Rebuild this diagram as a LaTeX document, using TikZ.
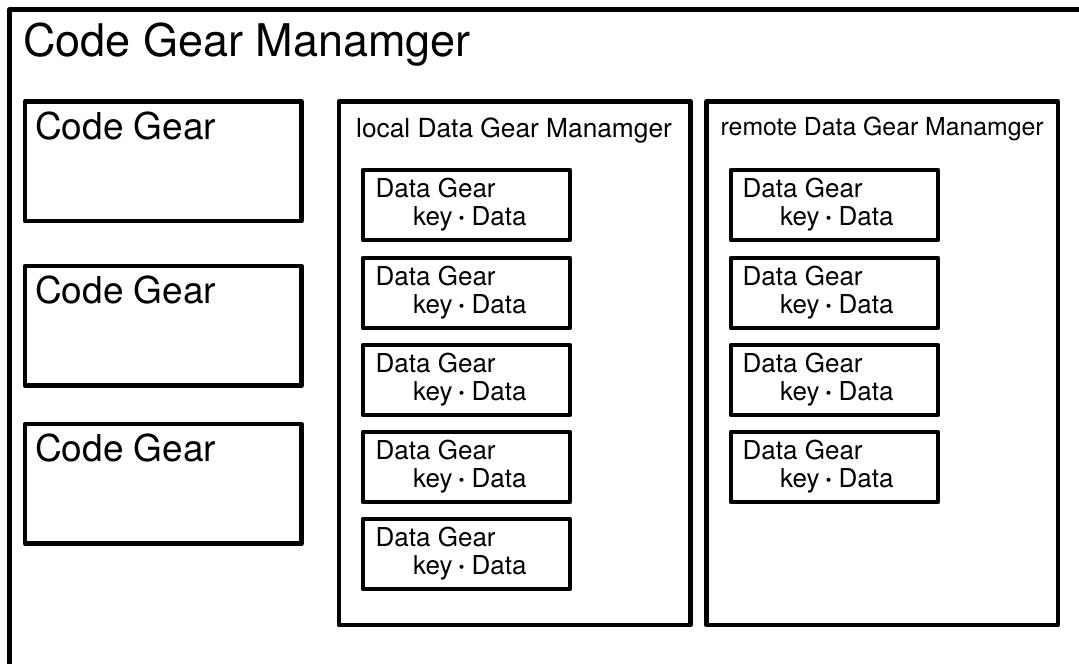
\documentclass[tikz,border=0pt]{standalone}
\usepackage{fontspec}
\setmainfont{TeX Gyre Heros}
\newfontfamily\cjk{Noto Sans CJK JP}
\newcommand{\keydata}{key{\cjk\fontsize{19}{20}\selectfont ・}Data}
\newcommand{\dgtext}{Data Gear\\\hspace*{37.5pt}\keydata}
\tikzset{
  box/.style={draw, line width=4.7pt, line join=round, inner sep=0pt, outer sep=0pt, anchor=north west},
  lbl/.style={inner sep=0pt, anchor=base west},
  dglbl/.style={inner sep=0pt, anchor=base west, align=left, font=\fontsize{26}{28}\selectfont},
  titlefont/.style={font=\fontsize{45}{50}\selectfont},
  cgfont/.style={font=\fontsize{37}{42}\selectfont},
  dgmfont/.style={font=\fontsize{26.3}{30}\selectfont},
  rdgmfont/.style={font=\fontsize{24.8}{30}\selectfont},
}
\begin{document}
\begin{tikzpicture}[x=1pt,y=-1pt]
\useasboundingbox (0,0) rectangle (1079,664);
\begin{scope}
  \clip (0,0) rectangle (1079,664);
  \node[box, line width=4.6pt, minimum width=1100pt, minimum height=700pt] (cgm) at (9.5,9.5) {};
\end{scope}
\node[lbl, titlefont] (cgmt) at ([shift={(13.5,47)}]cgm.north west) {Code Gear Manamger};

% code gears
\foreach \i/\t in {1/101.5,2/266,3/424} {
  \node[box, minimum width=276.5pt, minimum height=119.5pt] (cg\i) at (25,\t) {};
  \node[lbl, cgfont] (cgt\i) at ([shift={(10,37.5)}]cg\i.north west) {Code Gear};
}

% local data gear manager
\node[box, minimum width=351.5pt, minimum height=523.5pt] (ldgm) at (339,101.5) {};
\node[lbl, dgmfont] (ldgmt) at ([shift={(17,35.5)}]ldgm.north west) {local Data Gear Manamger};
\foreach \i/\t in {1/170,2/258,3/345,4/432,5/519} {
  \node[box, minimum width=207pt, minimum height=70pt] (l\i) at (363,\t) {};
  \node[dglbl] (lt\i) at ([shift={(12.5,55)}]l\i.north west) {\dgtext};
}

% remote data gear manager
\node[box, minimum width=351.5pt, minimum height=523.5pt] (rdgm) at (706.5,101.5) {};
\node[lbl, rdgmfont] (rdgmt) at ([shift={(14,34)}]rdgm.north west) {remote Data Gear Manamger};
\foreach \i/\t in {1/170,2/258,3/345,4/432} {
  \node[box, minimum width=207pt, minimum height=70pt] (r\i) at (731,\t) {};
  \node[dglbl] (rt\i) at ([shift={(11.5,55)}]r\i.north west) {\dgtext};
}
\end{tikzpicture}
\end{document}
